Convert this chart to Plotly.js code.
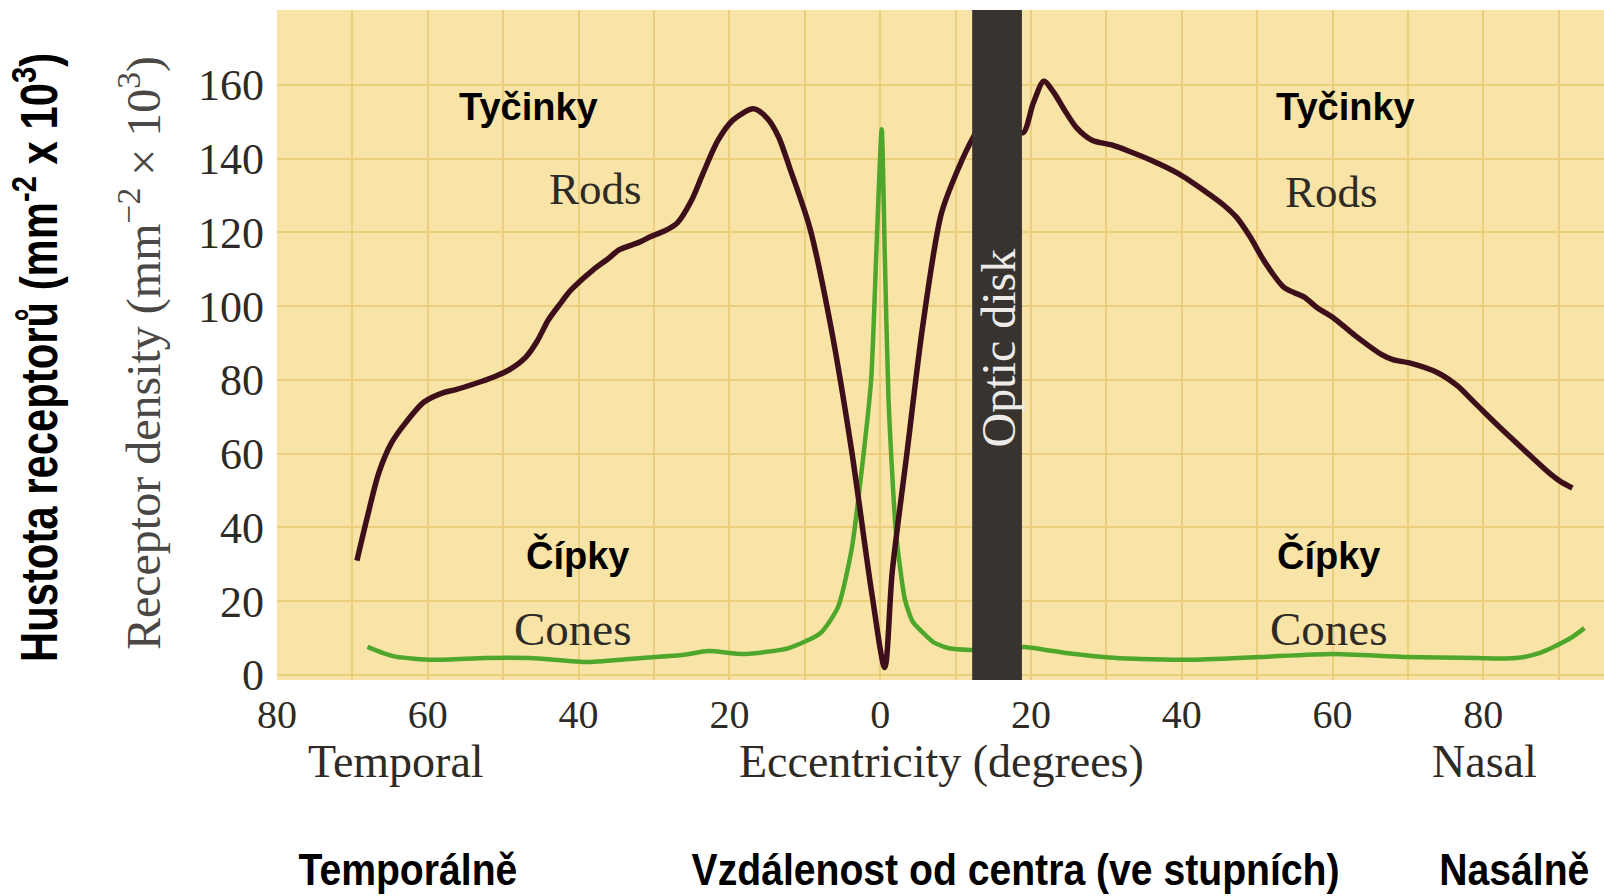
<!DOCTYPE html>
<html>
<head>
<meta charset="utf-8">
<script src="https://cdn.plot.ly/plotly-3.0.1.min.js"></script>
<style>
  html, body { margin: 0; padding: 0; background: #ffffff; }
  #chart { width: 1604px; height: 896px; }
</style>
</head>
<body>
<div id="chart"></div>
<script>
// Eccentricity in degrees: temporal side negative, nasal side positive
const rodEcc = [-69.4, -68, -66.5, -64.8, -62.9, -60.5, -58, -56.4, -53, -51, -49, -47, -45.5, -44, -42.5, -41,
  -38.1, -36, -34.6, -32, -30.5, -28.5, -26.9, -25, -23.5, -21.5, -19.5, -16.8, -15, -13.5, -12, -9.3,
  -6.5, -3.8, -1.1, 0.6, 1.6, 3.6, 5.6, 8.1, 10.4, 12.4, 14, 16, 18.9, 20.3, 21.7, 23,
  24.5, 26, 28.1, 30.7, 33, 36, 39.5, 43.4, 45.5, 47.3, 49, 51, 53.6, 56.2, 58, 60, 63, 66.4, 68, 70.2, 74, 76.5,
  79, 82, 85.4, 88.6, 90.2, 91.8];
// Rod density (mm^-2 x 10^3)
const rodDensity = [31, 43, 54.8, 63, 68.5, 74, 76.5, 77.3, 79.5, 81, 83, 86.2, 90.5, 96.3, 100.5, 104.4,
  109.8, 113, 115.3, 117.3, 118.8, 120.5, 122.6, 128.8, 136, 145, 150.5, 153.5, 151, 146, 137.5, 121,
  94, 61, 22, 2, 28, 61, 94, 125, 137.5, 146, 151, 153, 147, 155, 161, 158,
  153, 148.5, 145, 143.7, 142, 139.5, 136, 130.7, 127.5, 124, 119, 112, 105, 102.5, 99.5, 97, 92, 87, 85.5, 84.6,
  81.9, 78.5, 73.5, 67.5, 61, 55, 52.5, 50.7];

const coneEcc = [-68, -66, -64.1, -59.3, -52.3, -46.4, -38.7, -31.7, -26, -22.8, -18, -12.1, -7.9, -5.6, -3.8,
  -2.4, -1.2, -0.5, 0.2, 0.6, 1.1, 2.1, 3.3, 4.3, 5.7, 7, 9, 11.9, 19.2, 22, 24.9, 31.4, 40.9, 50.5, 60, 69.5,
  79, 83, 85.4, 87.5, 89.3, 91.8, 93.4];
// Cone density (mm^-2 x 10^3)
const coneDensity = [7.6, 6, 4.9, 4.1, 4.6, 4.6, 3.5, 4.6, 5.5, 6.5, 5.7, 7.3, 11.4, 18.4, 33.9,
  56.4, 80, 115, 148, 115, 75, 38.5, 20.3, 14.5, 11.4, 9, 7.3, 6.8, 7.6, 6.8, 5.9, 4.6, 4.1, 4.9, 5.7, 4.9,
  4.6, 4.5, 4.9, 6, 7.6, 10.3, 12.7];

// Blind spot where the optic nerve leaves the eye (degrees, nasal)
const opticDisk = [12.2, 18.8];

// Labelled ticks every 20 degrees, extra grid lines halfway between
const xTickVals = [-80, -60, -40, -20, 0, 20, 40, 60, 80];
const xTickText = ['80', '60', '40', '20', '0', '20', '40', '60', '80'];
const xMinorVals = [-70, -50, -30, -10, 10, 30, 50, 70, 90];
const yTickVals = [0, 20, 40, 60, 80, 100, 120, 140, 160];

const serif = 'Liberation Serif, Times New Roman, serif';
const sans = 'Liberation Sans, Arial, sans-serif';
const inkSerif = '#2e2a26';
const gridColor = '#ebcf7c';

const traces = [
  {
    x: coneEcc, y: coneDensity, type: 'scatter', mode: 'lines', name: 'Cones',
    line: { color: '#4ea62a', width: 4.5, shape: 'spline', smoothing: 0.6 },
    hoverinfo: 'x+y'
  },
  {
    x: rodEcc, y: rodDensity, type: 'scatter', mode: 'lines', name: 'Rods',
    line: { color: '#3e0f1b', width: 5.5, shape: 'spline', smoothing: 0.8 },
    hoverinfo: 'x+y'
  }
];

function ann(text, x, y, font, extra) {
  return Object.assign({ text: text, x: x, y: y, xref: 'x', yref: 'y', showarrow: false,
    xanchor: 'center', yanchor: 'middle', font: font }, extra || {});
}

const boldSans = { family: sans, size: 38, color: '#000', weight: 'bold' };
const narrowBold = (size) => ({ family: sans, size: size, color: '#000', weight: 'bold' });

const annotations = [
  // in-plot labels
  ann('Tyčinky', -46.6, 154, boldSans),
  ann('Tyčinky', 61.7, 154, boldSans),
  ann('Rods', -37.8, 131.8, { family: serif, size: 45, color: inkSerif }),
  ann('Rods', 59.9, 131, { family: serif, size: 45, color: inkSerif }),
  ann('Čípky', -40.2, 32.5, boldSans),
  ann('Čípky', 59.5, 32.5, boldSans),
  ann('Cones', -40.8, 12.5, { family: serif, size: 47, color: inkSerif }),
  ann('Cones', 59.5, 12.5, { family: serif, size: 47, color: inkSerif }),
  ann('Optic disk', (opticDisk[0] + opticDisk[1]) / 2 + 0.2, 88.7,
      { family: serif, size: 48, color: '#ecebe8' }, { textangle: -90 }),
  // axis captions below the plot
  ann('Temporal', -64.2, -0.122, { family: serif, size: 46, color: inkSerif }, { yref: 'paper' }),
  ann('Eccentricity (degrees)', 8.1, -0.122, { family: serif, size: 46, color: inkSerif }, { yref: 'paper' }),
  ann('Nasal', 80.1, -0.122, { family: serif, size: 46, color: inkSerif }, { yref: 'paper' }),
  ann('Temporálně', -62.6, -0.283, narrowBold(45), { yref: 'paper' }),
  ann('Vzdálenost od centra (ve stupních)', 17.9, -0.283, narrowBold(45), { yref: 'paper' }),
  ann('Nasálně', 84.1, -0.283, narrowBold(45), { yref: 'paper' }),
  // vertical axis captions
  ann('Receptor density (mm<sup>−2</sup> × 10<sup>3</sup>)', -0.1032, 0.488,
      { family: serif, size: 48, color: '#4a4744' }, { xref: 'paper', yref: 'paper', textangle: -90 }),
  ann('Hustota receptorů (mm<sup>-2</sup> x 10<sup>3</sup>)', -0.1816, 0.4806,
      narrowBold(51), { xref: 'paper', yref: 'paper', textangle: -90 })
];
// Czech captions are set in a condensed bold face (horizontal squeeze per label)
const condensed = new Map([[12, 0.87], [13, 0.87], [14, 0.87], [16, 0.82]]);

const layout = {
  width: 1604, height: 896,
  margin: { l: 277, r: 0, t: 10, b: 216, pad: 0 },
  paper_bgcolor: '#ffffff',
  plot_bgcolor: '#f8e4a6',
  showlegend: false,
  xaxis: {
    range: [-80, 96], tickmode: 'array', tickvals: xTickVals, ticktext: xTickText,
    showgrid: true, gridcolor: gridColor, gridwidth: 2, zeroline: false, showline: false,
    ticks: '', ticklabelstandoff: 7,
    tickfont: { family: serif, size: 40, color: inkSerif },
    minor: { tickmode: 'array', tickvals: xMinorVals, showgrid: true, gridcolor: gridColor, gridwidth: 2, ticks: '' }
  },
  yaxis: {
    range: [-1.36, 180.3], tickmode: 'array', tickvals: yTickVals,
    showgrid: true, gridcolor: gridColor, gridwidth: 2, zeroline: false, showline: false,
    ticks: '', ticklabelstandoff: 12,
    tickfont: { family: serif, size: 44, color: inkSerif }
  },
  shapes: [{
    type: 'rect', xref: 'x', yref: 'paper', x0: opticDisk[0], x1: opticDisk[1], y0: 0, y1: 1,
    fillcolor: '#38332e', line: { width: 0 }, layer: 'above'
  }],
  annotations: annotations
};

Plotly.newPlot('chart', traces, layout, { displayModeBar: false, staticPlot: true }).then(() => {
  document.querySelectorAll('#chart .annotation').forEach((g) => {
    const idx = Number(g.getAttribute('data-index'));
    if (!condensed.has(idx)) return;
    const t = g.querySelector('text.annotation-text');
    if (!t) return;
    t.style.transformBox = 'fill-box';
    t.style.transformOrigin = 'center';
    t.style.transform = 'scaleX(' + condensed.get(idx) + ')';
  });
});
</script>
</body>
</html>
